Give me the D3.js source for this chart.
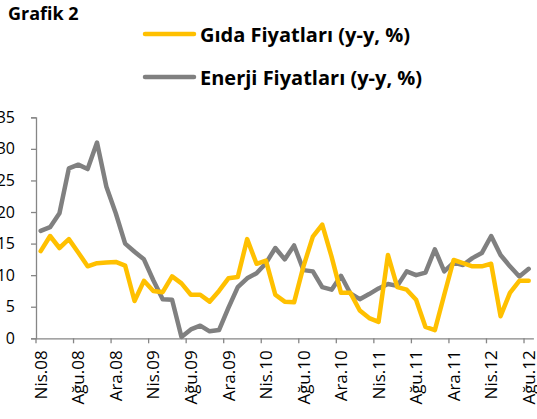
<!DOCTYPE html>
<html>
<head>
<meta charset="utf-8">
<script src="https://cdn.jsdelivr.net/npm/d3@7"></script>
<style>
  body { margin: 0; background: #fff; }
  svg { display: block; }
  .axis path, .axis line { stroke: #868686; stroke-width: 1.3; }
  .axis text { font-family: "Open Sans", sans-serif; fill: #000; }
</style>
</head>
<body>
<div id="chart-area"></div>
<script>
// SVG size
var width = 537,
    height = 419;

// Months Nis.08 .. Ağu.12 (one per category)
var monthNames = ["Oca", "Şub", "Mar", "Nis", "May", "Haz", "Tem", "Ağu", "Eyl", "Eki", "Kas", "Ara"];
var months = [];
for (var y = 8; y <= 12; y++) {
    for (var m = 0; m < 12; m++) {
        if (y === 8 && m < 3) continue;
        if (y === 12 && m > 7) continue;
        months.push(monthNames[m] + "." + (y < 10 ? "0" + y : y));
    }
}

// Labels shown on the x axis
var tickLabels = ["Nis.08", "Ağu.08", "Ara.08", "Nis.09", "Ağu.09", "Ara.09", "Nis.10",
                  "Ağu.10", "Ara.10", "Nis.11", "Ağu.11", "Ara.11", "Nis.12", "Ağu.12"];

var yTicks = [0, 5, 10, 15, 20, 25, 30, 35];

// Gıda Fiyatları (y-y, %)
var gida = [13.8, 16.2, 14.3, 15.7, 13.6, 11.4, 11.9, 12.0, 12.1, 11.5,
            5.9, 9.1, 7.5, 7.3, 9.8, 8.7, 6.9, 6.9, 5.8, 7.5,
            9.5, 9.7, 15.7, 11.8, 12.3, 6.9, 5.8, 5.7, 11.4, 16.1,
            18.0, 12.9, 7.2, 7.2, 4.4, 3.2, 2.6, 13.2, 8.1, 7.7,
            6.1, 1.8, 1.3, 6.9, 12.4, 11.9, 11.4, 11.4, 11.8, 3.5,
            7.2, 9.1, 9.1];

// Enerji Fiyatları (y-y, %)
var enerji = [17.0, 17.6, 19.8, 26.9, 27.5, 26.8, 31.0, 24.0, 19.8, 15.0,
              13.7, 12.5, 9.2, 6.2, 6.1, 0.2, 1.4, 2.0, 1.1, 1.3,
              4.8, 8.1, 9.5, 10.3, 11.9, 14.3, 12.5, 14.7, 10.8, 10.6,
              8.1, 7.7, 9.9, 7.1, 6.2, 7.0, 7.9, 8.6, 8.3, 10.6,
              10.0, 10.4, 14.1, 10.6, 12.0, 11.6, 12.7, 13.5, 16.2, 13.2,
              11.4, 9.8, 11.0];

var series = [
    { name: "Gıda Fiyatları (y-y, %)", values: gida, color: "#FFC000" },
    { name: "Enerji Fiyatları (y-y, %)", values: enerji, color: "#808080" }
];

var svg = d3.select("#chart-area")
    .append("svg")
    .attr("width", width)
    .attr("height", height);

// Scales
var x = d3.scaleBand()
    .domain(months)
    .range([36, 533.4])
    .padding(0);

var yScale = d3.scaleLinear()
    .domain([0, 35])
    .range([338.3, 117.3]);

// Axes
var yAxis = d3.axisLeft()
    .scale(yScale)
    .tickValues(yTicks)
    .tickSize(5)
    .tickPadding(16);

svg.append("g")
    .attr("class", "axis y-axis")
    .attr("transform", "translate(36,0)")
    .call(yAxis)
    .selectAll("text")
    .style("font-size", "16px");

var xAxis = d3.axisBottom()
    .scale(x)
    .tickValues(tickLabels)
    .tickSize(5)
    .tickSizeOuter(0);

var gx = svg.append("g")
    .attr("class", "axis x-axis")
    .attr("transform", "translate(0," + yScale(0) + ")")
    .call(xAxis);

// tick marks sit on category boundaries, labels on category centres
gx.selectAll(".tick line")
    .attr("x1", -x.bandwidth() / 2)
    .attr("x2", -x.bandwidth() / 2);

gx.selectAll(".tick text")
    .attr("transform", "rotate(-90)")
    .attr("x", -12)
    .attr("y", 0)
    .attr("dy", "0.36em")
    .attr("text-anchor", "end")
    .style("font-size", "17px");

// Lines
var line = d3.line()
    .x(function(d, i) { return x(months[i]) + x.bandwidth() / 2; })
    .y(function(d) { return yScale(d); });

svg.selectAll(".series")
    .data(series.slice().reverse())
    .enter()
    .append("path")
    .attr("class", "series")
    .attr("d", function(d) { return line(d.values); })
    .attr("fill", "none")
    .attr("stroke", function(d) { return d.color; })
    .attr("stroke-width", 4.5)
    .attr("stroke-linejoin", "round")
    .attr("stroke-linecap", "round");

// Title
svg.append("text")
    .attr("x", 8)
    .attr("y", 20)
    .style("font-family", "'Open Sans', sans-serif")
    .style("font-weight", "bold")
    .style("font-size", "18px")
    .text("Grafik 2");

// Legend
var legend = svg.selectAll(".legend")
    .data(series)
    .enter()
    .append("g")
    .attr("class", "legend")
    .attr("transform", function(d, i) { return "translate(0," + (34 + i * 43) + ")"; });

legend.append("line")
    .attr("x1", 145)
    .attr("x2", 194)
    .attr("stroke", function(d) { return d.color; })
    .attr("stroke-width", 4.5)
    .attr("stroke-linecap", "round");

legend.append("text")
    .attr("x", 200)
    .attr("y", 8)
    .style("font-family", "'Open Sans', sans-serif")
    .style("font-weight", "bold")
    .style("font-size", "20px")
    .text(function(d) { return d.name; });
</script>
</body>
</html>
